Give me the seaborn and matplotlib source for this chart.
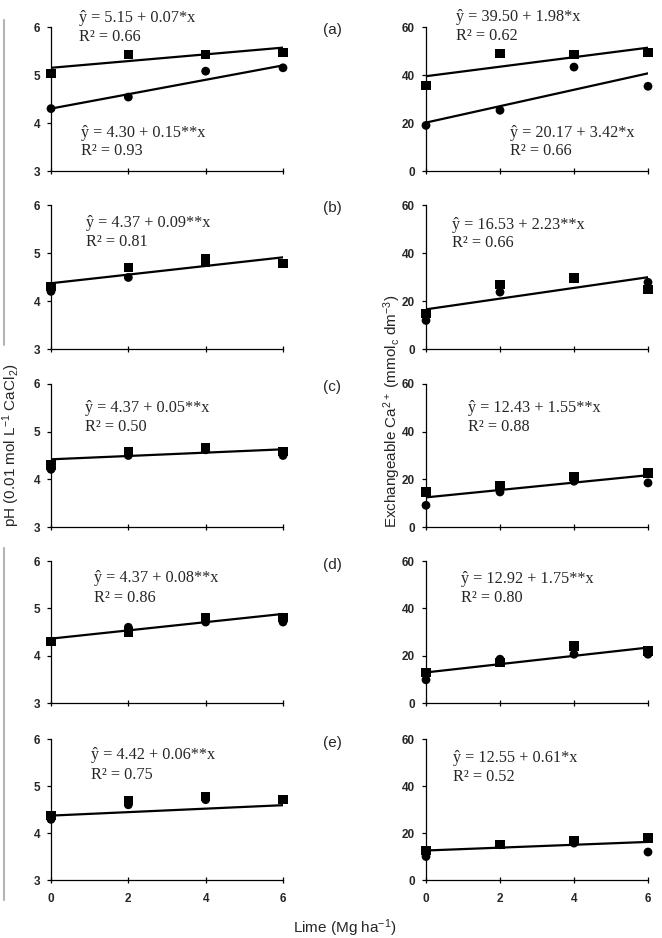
import matplotlib
matplotlib.use("Agg")
import matplotlib.pyplot as plt
from matplotlib.lines import Line2D
import seaborn as sns
import pandas as pd
import numpy as np

# ---------------- data ----------------
lime = [0, 2, 4, 6]
panel_labels = ["(a)", "(b)", "(c)", "(d)", "(e)"]

# pH (squares / circles) per panel
ph_sq = [[5.03, 5.43, 5.42, 5.47],
         [4.30, 4.70, 4.89, 4.78],
         [4.30, 4.59, 4.67, 4.59],
         [4.30, 4.50, 4.80, 4.80],
         [4.37, 4.69, 4.78, 4.71]]
ph_ci = [[4.30, 4.54, 5.08, 5.15],
         [4.20, 4.49, 4.80, 4.78],
         [4.21, 4.50, 4.62, 4.50],
         [4.30, 4.60, 4.71, 4.71],
         [4.29, 4.60, 4.71, 4.71]]
ph_sq_extra = [None, 4.80, None, None, None]   # second square at x=4 in (b)

# Exchangeable Ca (squares / circles) per panel
ca_sq = [[35.7, 48.9, 48.5, 49.3],
         [14.7, 26.8, 29.6, 24.9],
         [14.7, 17.5, 21.3, 22.7],
         [12.9, 17.2, 24.1, 22.0],
         [12.6, 15.0, 16.9, 17.9]]
ca_ci = [[19.0, 25.3, 43.3, 35.3],
         [11.9, 23.7, 29.3, 27.8],
         [9.1, 14.7, 19.2, 18.5],
         [9.8, 18.5, 20.6, 20.6],
         [10.0, 15.0, 15.7, 11.9]]

# fitted lines (intercept, slope) as drawn
ph_fit_int = [[5.15, 4.30], [4.37], [4.42], [4.36], [4.37]]
ph_fit_slope = [[0.07, 0.15], [0.09], [0.035], [0.087], [0.037]]
ca_fit_int = [[39.50, 20.17], [16.53], [12.43], [12.92], [12.55]]
ca_fit_slope = [[1.98, 3.42], [2.23], [1.55], [1.75], [0.61]]

# equation labels
ph_eq = [[("ŷ = 5.15 + 0.07*x", "R² = 0.66"), ("ŷ = 4.30 + 0.15**x", "R² = 0.93")],
         [("ŷ = 4.37 + 0.09**x", "R² = 0.81")],
         [("ŷ = 4.37 + 0.05**x", "R² = 0.50")],
         [("ŷ = 4.37 + 0.08**x", "R² = 0.86")],
         [("ŷ = 4.42 + 0.06**x", "R² = 0.75")]]
ca_eq = [[("ŷ = 39.50 + 1.98*x", "R² = 0.62"), ("ŷ = 20.17 + 3.42*x", "R² = 0.66")],
         [("ŷ = 16.53 + 2.23**x", "R² = 0.66")],
         [("ŷ = 12.43 + 1.55**x", "R² = 0.88")],
         [("ŷ = 12.92 + 1.75**x", "R² = 0.80")],
         [("ŷ = 12.55 + 0.61*x", "R² = 0.52")]]

ph_ticks = [3, 4, 5, 6]
ca_ticks = [0, 20, 40, 60]

# ---------------- layout ----------------
W, H = 662, 938
sns.set_theme(style="white")
plt.rcParams["font.family"] = ["Liberation Sans", "DejaVu Sans"]
plt.rcParams["mathtext.fontset"] = "custom"
plt.rcParams["mathtext.rm"] = "Liberation Sans"
plt.rcParams["mathtext.it"] = "Liberation Sans"
plt.rcParams["mathtext.bf"] = "Liberation Sans:bold"
fig = plt.figure(figsize=(W / 100, H / 100), dpi=100)

row_top = [27, 205, 384, 561, 739]
row_bot = [171, 349, 527, 703, 880]
left_x0, left_x1 = 51, 283
right_x0, right_x1 = 426, 648

# text positions (px): per panel, per equation: (x, y_line1, y_line2)
ph_eq_pos = [[(79, 18, 37), (81, 133, 151)],
             [(86, 223, 242)],
             [(85, 408, 427)],
             [(94, 578, 598)],
             [(91, 755, 775)]]
ca_eq_pos = [[(456, 17, 36), (510, 133, 151)],
             [(452, 225, 243)],
             [(468, 408, 427)],
             [(461, 579, 598)],
             [(453, 758, 777)]]
panel_label_y = [30, 208, 387, 565, 743]


def fx(x):
    return x / W


def fy(y):
    return 1 - y / H


def style_axis(ax, ylim, yticks, bottom_row):
    ax.set_xlim(0, 6)
    ax.set_ylim(*ylim)
    ax.set_xticks(lime)
    ax.set_yticks(yticks)
    for s in ["top", "right"]:
        ax.spines[s].set_visible(False)
    for s in ["left", "bottom"]:
        ax.spines[s].set_color("black")
        ax.spines[s].set_linewidth(0.9)
    ax.tick_params(axis="x", direction="inout", length=5, width=0.9, color="black",
                   pad=7, labelsize=8.5, bottom=True)
    ax.tick_params(axis="y", direction="out", length=3, width=0.9, color="black",
                   pad=5, labelsize=8.5, left=True)
    ax.set_xticklabels([str(v) for v in lime] if bottom_row else [])
    ax.set_yticklabels([str(v) for v in yticks])
    for lab in ax.get_xticklabels() + ax.get_yticklabels():
        lab.set_fontweight("bold")
    ax.set_xlabel("")
    ax.set_ylabel("")
    ax.grid(False)


def draw_panel(ax, sq, ci, ints, slopes, extra=None):
    df_ci = pd.DataFrame({"lime": lime, "v": ci})
    df_sq = pd.DataFrame({"lime": lime, "v": sq})
    sns.scatterplot(data=df_ci, x="lime", y="v", marker="o", s=40, color="black",
                    edgecolor="none", ax=ax, clip_on=False, zorder=4)
    sns.scatterplot(data=df_sq, x="lime", y="v", marker="s", s=44, color="black",
                    edgecolor="none", ax=ax, clip_on=False, zorder=5)
    if extra is not None:
        sns.scatterplot(x=[4], y=[extra], marker="s", s=44, color="black",
                        edgecolor="none", ax=ax, clip_on=False, zorder=5)
    for b0, b1 in zip(ints, slopes):
        xs = np.array([lime[0], lime[-1]], dtype=float)
        df_l = pd.DataFrame({"lime": xs, "fit": b0 + b1 * xs})
        sns.lineplot(data=df_l, x="lime", y="fit", color="black", linewidth=1.6,
                     ax=ax, zorder=6)


serif = ["Liberation Serif", "DejaVu Serif"]
EQ_FS = 11.7
for i in range(5):
    b = fy(row_bot[i])
    h = (row_bot[i] - row_top[i]) / H
    axl = fig.add_axes([fx(left_x0), b, (left_x1 - left_x0) / W, h])
    axr = fig.add_axes([fx(right_x0), b, (right_x1 - right_x0) / W, h])
    draw_panel(axl, ph_sq[i], ph_ci[i], ph_fit_int[i], ph_fit_slope[i], ph_sq_extra[i])
    draw_panel(axr, ca_sq[i], ca_ci[i], ca_fit_int[i], ca_fit_slope[i])
    style_axis(axl, (3, 6), ph_ticks, i == 4)
    style_axis(axr, (0, 60), ca_ticks, i == 4)

    for (l1, l2), (px, y1, y2) in zip(ph_eq[i], ph_eq_pos[i]):
        fig.text(fx(px), fy(y1), l1, family=serif, fontsize=EQ_FS, va="center", ha="left")
        fig.text(fx(px), fy(y2), l2, family=serif, fontsize=EQ_FS, va="center", ha="left")
    for (l1, l2), (px, y1, y2) in zip(ca_eq[i], ca_eq_pos[i]):
        fig.text(fx(px), fy(y1), l1, family=serif, fontsize=EQ_FS, va="center", ha="left")
        fig.text(fx(px), fy(y2), l2, family=serif, fontsize=EQ_FS, va="center", ha="left")

    fig.text(fx(332), fy(panel_label_y[i]), panel_labels[i], fontsize=11,
             ha="center", va="center")

# axis titles
fig.text(fx(11), fy(445), "pH (0.01 mol L$^{-1}$ CaCl$_2$)", rotation=90,
         fontsize=11, ha="center", va="center")
fig.text(fx(392), fy(411), "Exchangeable Ca$^{2+}$ (mmol$_c$ dm$^{-3}$)", rotation=90,
         fontsize=11, ha="center", va="center")
fig.text(fx(345), fy(928), "Lime (Mg ha$^{-1}$)", fontsize=11, ha="center", va="center")

# grey frame fragments at the left edge
fig.add_artist(Line2D([fx(4), fx(4)], [fy(20), fy(345)], color="#b5b5b5", lw=1.5))
fig.add_artist(Line2D([fx(4), fx(4)], [fy(548), fy(900)], color="#b5b5b5", lw=1.5))

fig.savefig("out.png", dpi=100)
